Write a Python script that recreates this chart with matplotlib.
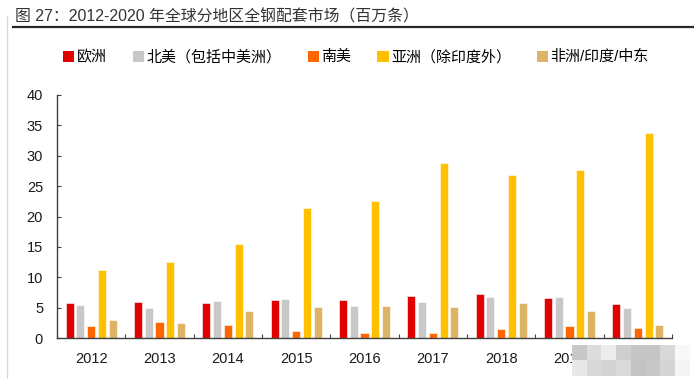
import numpy as np
import matplotlib
matplotlib.use("Agg")
import matplotlib.pyplot as plt
from matplotlib.lines import Line2D
from matplotlib.patches import Patch

plt.rcParams["font.family"] = ["Liberation Sans", "Noto Sans CJK SC", "DejaVu Sans"]

# Données (millions de pneus)
years = ["2012", "2013", "2014", "2015", "2016", "2017", "2018", "2019", "2020"]
europe = [5.7, 6.0, 5.7, 6.2, 6.3, 6.95, 7.2, 6.6, 5.6]
north_america = [5.4, 5.0, 6.1, 6.5, 5.3, 5.9, 6.7, 6.8, 4.9]
south_america = [2.0, 2.7, 2.1, 1.1, 0.9, 0.9, 1.5, 1.9, 1.6]
asia = [11.2, 12.5, 15.5, 21.4, 22.5, 28.8, 26.9, 27.6, 33.7]
africa_india_me = [2.9, 2.4, 4.4, 5.1, 5.3, 5.1, 5.7, 4.5, 2.2]

series_names = ["欧洲", "北美（包括中美洲）", "南美", "亚洲（除印度外）", "非洲/印度/中东"]
series_colors = ["#E00000", "#C8C8C8", "#FF6600", "#FFC000", "#DDB466"]
series = [europe, north_america, south_america, asia, africa_india_me]

W, H = 694, 379
fig = plt.figure(figsize=(W / 100, H / 100), dpi=100)
fig.patch.set_facecolor("white")

ax = fig.add_axes([57 / W, 1 - 338 / H, (672 - 57) / W, (338 - 95) / H])

x = np.arange(len(years))
pitch = 0.157
width = 0.118
for k, (vals, col) in enumerate(zip(series, series_colors)):
    ax.bar(x + (k - 2) * pitch, vals, width=width, color=col,
           edgecolor="white", linewidth=0.4, zorder=2)

ax.set_xlim(-0.5, len(years) - 0.5)
ax.set_ylim(0, 40)
ax.set_yticks(np.arange(0, 41, 5))
ax.set_xticks(x)
ax.set_xticklabels(years)
ax.set_xticks(np.arange(-0.5, len(years), 1.0), minor=True)

axis_col = "#404040"
for side in ("top", "right"):
    ax.spines[side].set_visible(False)
for side in ("left", "bottom"):
    ax.spines[side].set_color(axis_col)
    ax.spines[side].set_linewidth(1.0)

ax.tick_params(axis="y", direction="in", length=3, width=0.8, color=axis_col,
               labelsize=10.5, pad=10, labelcolor="#1a1a1a")
ax.tick_params(axis="x", which="major", length=0, labelsize=10.5, pad=10,
               labelcolor="#1a1a1a")
ax.tick_params(axis="x", which="minor", direction="in", length=3, width=0.8,
               color=axis_col)

# Légende
handles = [Patch(facecolor=c, edgecolor="none") for c in series_colors]
fig.legend(handles, series_names, loc="center", bbox_to_anchor=(356 / W, 1 - 57 / H),
           ncol=5, frameon=False, fontsize=10.8, handlelength=0.75, handleheight=0.75,
           handletextpad=0.15, columnspacing=1.75, borderaxespad=0)

# Titre et filet
fig.text(15 / W, 1 - 17 / H, "图 27：2012-2020 年全球分地区全钢配套市场（百万条）",
         fontsize=11.4, color="#333333", ha="left", va="center")
fig.add_artist(Line2D([13 / W, 1.0], [1 - 27 / H, 1 - 27 / H], color="#262626", lw=1.6))
fig.add_artist(Line2D([7 / W, 7 / W], [0, 1 - 16 / H], color="#d8d8d8", lw=1.0))

# Filigrane (mosaïque grise)
mosaic = np.array([
    [0xc8, 0xdc, 0xec, 0xcf, 0xc5, 0xc5, 0xd8, 0xf8],
    [0xe8, 0xd8, 0xd3, 0xda, 0xc3, 0xc8, 0xd5, 0xf5],
]) / 255.0
wax = fig.add_axes([572 / W, 1 - 376 / H, 118 / W, 31 / H])
wax.imshow(mosaic, cmap="gray", vmin=0, vmax=1, aspect="auto", interpolation="nearest")
wax.axis("off")

fig.savefig("out.png", dpi=100, facecolor="white")
